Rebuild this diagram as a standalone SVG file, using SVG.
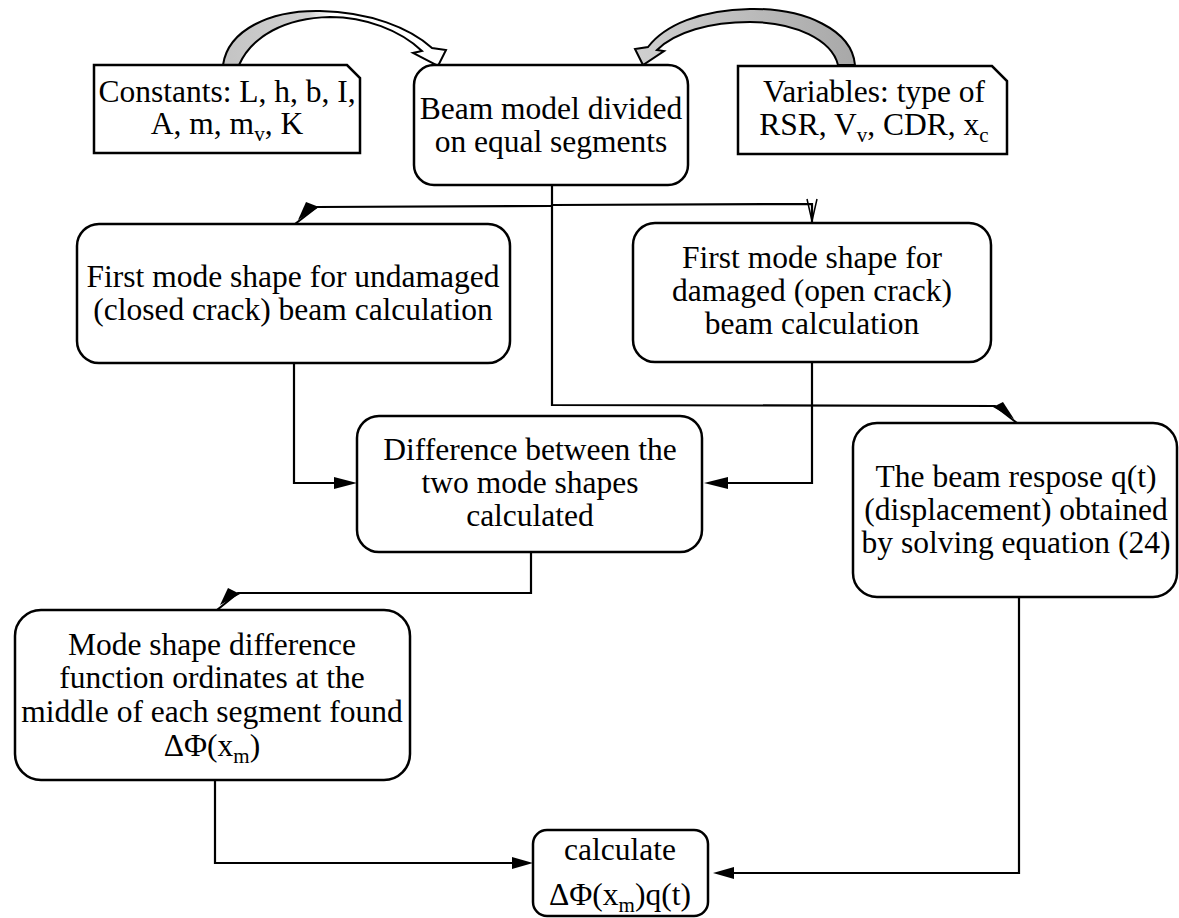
<svg xmlns="http://www.w3.org/2000/svg" width="1179" height="918" viewBox="0 0 1179 918">
<style>
  .box { fill: #fff; stroke: #000; stroke-width: 2.5; }
  .t { font-family: "Liberation Serif", "Times New Roman", serif; font-size: 31.5px; fill: #000; text-anchor: middle; }
  .sub { font-size: 21px; }
  .ln { fill: none; stroke: #000; stroke-width: 2.2; }
  .ah { fill: #000; stroke: none; }
  .big { stroke: #000; stroke-width: 2; }
</style>
<defs>
  <linearGradient id="gL" gradientUnits="userSpaceOnUse" x1="225" y1="0" x2="330" y2="0">
    <stop offset="0" stop-color="#c4c4c4"/>
    <stop offset="0.8" stop-color="#d0d0d0"/>
    <stop offset="1" stop-color="#ffffff"/>
  </linearGradient>
  <linearGradient id="gR" gradientUnits="userSpaceOnUse" x1="855" y1="0" x2="640" y2="0">
    <stop offset="0" stop-color="#a8a8a8"/>
    <stop offset="1" stop-color="#cfcfcf"/>
  </linearGradient>
</defs>
<rect width="1179" height="918" fill="#fff"/>

<g id="connectors">
  <!-- curved input arrows -->
  <path class="big" fill="url(#gL)" d="M223,65 C228,30 270,10 320,11 C370,12 410,28 432,48 L446,50 L438,66 L413,53 L422,51 C400,30 365,17 330,17 C285,18 252,36 239,65 Z"/>
  <path class="big" fill="url(#gR)" d="M855,65 C852,30 805,8 750,9 C700,10 665,25 648,47 L635,49 L643,65 L664,51 L657,50 C675,32 710,22 750,22 C795,22 832,40 838,65 Z"/>

  <!-- beam model split -->
  <path class="ln" d="M552,185 L552,405 L995,406 L1017,423"/>
  <polygon class="ah" points="993,407 1003,402 1014,419"/>
  <path class="ln" d="M552,206 L317,207 L295,224"/>
  <polygon class="ah" points="306,202 319,207 298,220"/>
  <path class="ln" d="M552,205 L812,204 L812,222"/>
  <polyline class="ln" style="stroke-width:1.5" points="807,199 812,221 817,199"/>

  <!-- into difference -->
  <path class="ln" d="M294,363 L294,483 L340,483"/>
  <polygon class="ah" points="334,477 357,483 334,489"/>
  <path class="ln" d="M812,362 L812,483 L725,483"/>
  <polygon class="ah" points="728,477 704,483 728,489"/>

  <!-- difference to mode -->
  <path class="ln" d="M531,552 L531,593 L238,593 L217,610"/>
  <polygon class="ah" points="228,588 240,594 220,605"/>

  <!-- into calculate -->
  <path class="ln" d="M215,780 L215,863 L515,863"/>
  <polygon class="ah" points="512,857 533,863 512,869"/>
  <path class="ln" d="M1019,597 L1019,873 L730,873"/>
  <polygon class="ah" points="734,867 713,873 734,879"/>
</g>

<g id="constants">
  <polygon class="box" points="94,65 347,65 360,78 360,153 94,153"/>
  <text class="t" x="227" y="102">Constants: L, h, b, I,</text>
  <text class="t" x="227" y="134">A, m, m<tspan class="sub" dy="7">v</tspan><tspan dy="-7">, K</tspan></text>
</g>

<g id="beam-model">
  <rect class="box" x="414" y="65" width="274" height="120" rx="20"/>
  <text class="t" x="551" y="119">Beam model divided</text>
  <text class="t" x="551" y="152">on equal segments</text>
</g>

<g id="variables">
  <polygon class="box" points="738,66 992,66 1007,81 1007,154 738,154"/>
  <text class="t" x="874" y="102">Variables: type of</text>
  <text class="t" x="874" y="135">RSR, V<tspan class="sub" dy="7">v</tspan><tspan dy="-7">, CDR, x</tspan><tspan class="sub" dy="7">c</tspan></text>
</g>

<g id="undamaged">
  <rect class="box" x="77" y="224" width="433" height="139" rx="22"/>
  <text class="t" x="293" y="287">First mode shape for undamaged</text>
  <text class="t" x="293" y="320">(closed crack) beam calculation</text>
</g>

<g id="damaged">
  <rect class="box" x="633" y="223" width="358" height="139" rx="22"/>
  <text class="t" x="812" y="268">First mode shape for</text>
  <text class="t" x="812" y="301">damaged (open crack)</text>
  <text class="t" x="812" y="334">beam calculation</text>
</g>

<g id="difference">
  <rect class="box" x="357" y="416" width="345" height="136" rx="22"/>
  <text class="t" x="530" y="460">Difference between the</text>
  <text class="t" x="530" y="493">two mode shapes</text>
  <text class="t" x="530" y="526">calculated</text>
</g>

<g id="response">
  <rect class="box" x="853" y="423" width="324" height="174" rx="24"/>
  <text class="t" x="1016" y="487">The beam respose q(t)</text>
  <text class="t" x="1016" y="520">(displacement) obtained</text>
  <text class="t" x="1016" y="553">by solving equation (24)</text>
</g>

<g id="mode-difference">
  <rect class="box" x="15" y="610" width="395" height="170" rx="26"/>
  <text class="t" x="212" y="655">Mode shape difference</text>
  <text class="t" x="212" y="688">function ordinates at the</text>
  <text class="t" x="212" y="722">middle of each segment found</text>
  <text class="t" x="212" y="756">ΔΦ(x<tspan class="sub" dy="7">m</tspan><tspan dy="-7">)</tspan></text>
</g>

<g id="calculate">
  <rect class="box" x="533" y="830" width="175" height="86" rx="14"/>
  <text class="t" x="620" y="860">calculate</text>
  <text class="t" x="620" y="905">ΔΦ(x<tspan class="sub" dy="7">m</tspan><tspan dy="-7">)q(t)</tspan></text>
</g>
</svg>
